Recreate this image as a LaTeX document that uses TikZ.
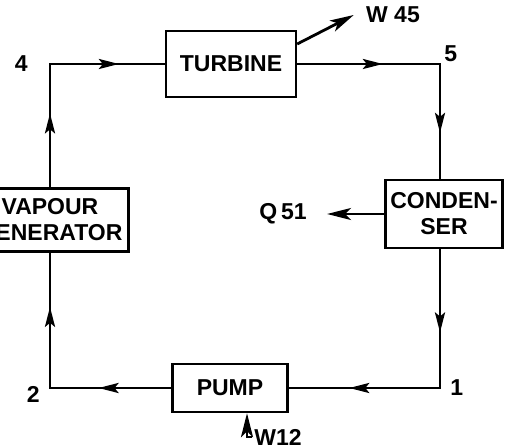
\documentclass[tikz,border=0pt]{standalone}
\usepackage{fontspec}
\setmainfont{Liberation Sans}
\usetikzlibrary{positioning,arrows.meta,decorations.markings}

\begin{document}
\begin{tikzpicture}[x=0.5pt, y=-0.5pt,
  unit/.style={draw, line width=1.2pt, align=center, inner sep=1pt, font=\fontsize{11.5}{13}\selectfont\bfseries, minimum width=#1},
  unit/.default=58pt,
  pipe/.style={line width=1.4pt, line cap=rect, postaction={decorate},
    decoration={markings, mark=at position 0.6 with {\arrow{Stealth[length=10pt,width=5pt,inset=2pt]}}}},
  arrow/.style={-{Stealth[length=12pt,width=6pt,inset=3pt]}, line width=1.4pt},
  lbl/.style={font=\fontsize{11.5}{13}\selectfont\bfseries, inner sep=1pt}]
  \useasboundingbox (0,0) rectangle (508,448);
  \clip (0,0) rectangle (508,448);
  % plant components
  \node[unit=65pt, minimum height=33pt] (turb) at (231,64) {TURBINE};
  \node[unit=58.5pt, minimum height=34pt] (cond) at (444,214) {CONDEN-\\SER};
  \node[unit=57.5pt, minimum height=24pt] (pump) at (230,388) {PUMP};
  \node[unit=78.5pt, minimum height=31.5pt] (vap) at (50,220) {VAPOUR\\GENERATOR};
  % corners of the loop
  \coordinate (c4) at (50,64);
  \coordinate (c5) at (440,64);
  \coordinate (c1) at (440,388);
  \coordinate (c2) at (50,388);
  % state points and energy labels
  \node[lbl, left=10pt of c4] (n4) {4};
  \node[lbl, above right=0pt and 1pt of c5] (n5) {5};
  \node[lbl, right=4pt of c1] (n1) {1};
  \node[lbl, left=4pt of c2, yshift=-3pt] (n2) {2};
  \node[lbl] (w45) at (393,15) {W 45};
  \node[lbl] (q51) at (283,214) {Q\,51};
  \node[lbl] (w12) at (278,437) {W12};
  % working fluid
  \draw[pipe] (c4 |- vap.north) -- (c4);
  \draw[pipe] (c4) -- (turb);
  \draw[pipe] (turb) -- (c5);
  \draw[pipe] (c5) -- (c5 |- cond.north);
  \draw[pipe] (c1 |- cond.south) -- (c1);
  \draw[pipe] (c1) -- (pump);
  \draw[pipe] (pump) -- (c2);
  \draw[pipe] (c2) -- (c2 |- vap.south);
  % work and heat
  \draw[arrow] ([yshift=10pt]turb.east) -- ([xshift=-5pt]w45.west);
  \draw[arrow, shorten >=9pt] (cond) -- (q51);
  \draw[arrow] (w12.west) -| ([xshift=8.5pt]pump.south);
\end{tikzpicture}
\end{document}
